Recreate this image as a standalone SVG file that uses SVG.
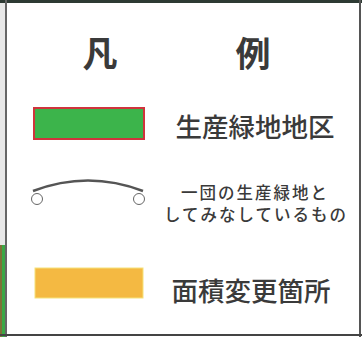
<svg xmlns="http://www.w3.org/2000/svg" width="362" height="337" viewBox="0 0 362 337">
<style>
.t{font-family:"Noto Sans CJK JP","Noto Sans CJK SC",sans-serif;fill:#3a3a3a;}
.title{font-size:35px;font-weight:bold;}
.lbl{font-size:26.5px;font-weight:500;}
.sm{font-size:16.5px;font-weight:500;letter-spacing:2px;}
</style>
<rect width="362" height="337" fill="#ffffff"/>
<g id="frame">
<rect x="0" y="0" width="5" height="337" fill="#e8e8e8"/>
<rect x="0" y="245" width="5" height="92" fill="#3aa845"/>
<line x1="1" y1="245" x2="1" y2="337" stroke="#c0392b" stroke-width="1"/>
<rect x="0" y="0" width="362" height="3" fill="#2d3a33"/>
<line x1="6" y1="0" x2="6" y2="337" stroke="#666" stroke-width="2"/>
<line x1="360" y1="0" x2="360" y2="337" stroke="#555" stroke-width="2"/>
<line x1="0" y1="335" x2="362" y2="335" stroke="#444" stroke-width="2"/>
</g>
<g id="title">
<text class="t title" x="100" y="67" text-anchor="middle">凡</text>
<text class="t title" x="253" y="67" text-anchor="middle">例</text>
</g>
<g id="item-green">
<rect x="34" y="108" width="110" height="31" fill="#3cb44b" stroke="#d0343c" stroke-width="2"/>
<text class="t lbl" x="255" y="137" text-anchor="middle">生産緑地地区</text>
</g>
<g id="item-arc">
<path d="M33,191 Q88,170 143,191" fill="none" stroke="#555" stroke-width="2.5"/>
<circle cx="37" cy="199" r="5.5" fill="#fff" stroke="#666" stroke-width="1"/>
<circle cx="139" cy="199" r="5.5" fill="#fff" stroke="#666" stroke-width="1"/>
<text class="t sm" x="255" y="199" text-anchor="middle">一団の生産緑地と</text>
<text class="t sm" x="256" y="221" text-anchor="middle">してみなしているもの</text>
</g>
<g id="item-orange">
<rect x="35" y="268" width="108" height="30" fill="#f4b942" stroke="#f6e27a" stroke-width="1"/>
<text class="t lbl" x="251" y="301" text-anchor="middle">面積変更箇所</text>
</g>
</svg>
